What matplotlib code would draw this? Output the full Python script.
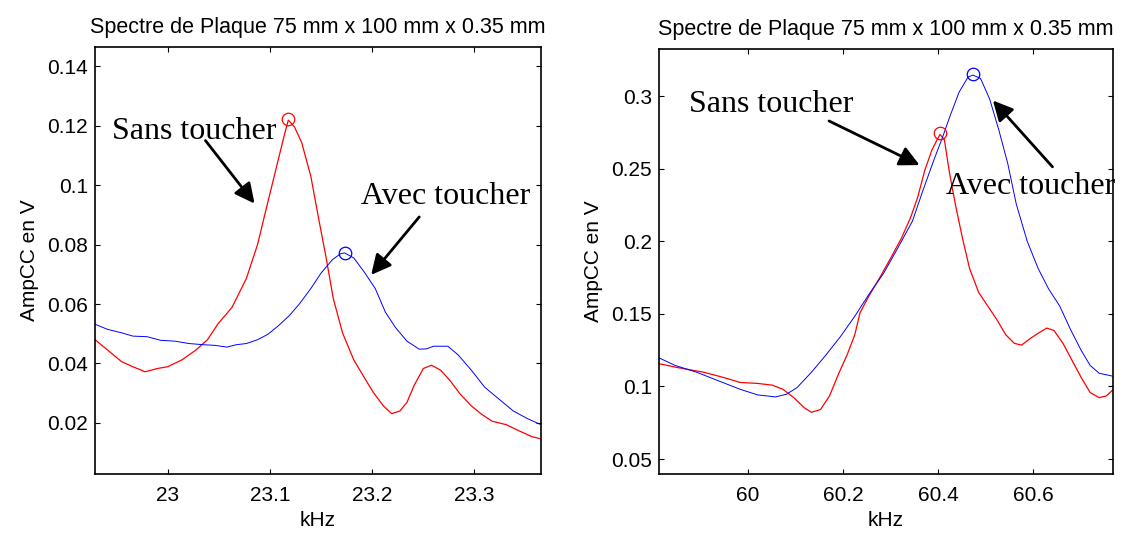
import numpy as np
import matplotlib
matplotlib.use('Agg')
import matplotlib.pyplot as plt

plt.rcParams['font.family'] = ['Liberation Sans', 'DejaVu Sans']

# Mode 1 (autour de 23 kHz)
f1_sans = [22.929, 22.941, 22.955, 22.966, 22.978, 22.990, 23.000, 23.014, 23.028, 23.039,
           23.049, 23.063, 23.077, 23.088, 23.096, 23.105, 23.114, 23.118, 23.124, 23.131,
           23.140, 23.148, 23.155, 23.162, 23.171, 23.182, 23.192, 23.201, 23.211, 23.219,
           23.227, 23.234, 23.241, 23.250, 23.258, 23.267, 23.276, 23.286, 23.297, 23.307,
           23.317, 23.331, 23.345, 23.356, 23.365]
a1_sans = [0.0480, 0.0446, 0.0406, 0.0389, 0.0372, 0.0383, 0.0389, 0.0412, 0.0446, 0.0480,
           0.0532, 0.0589, 0.0686, 0.0801, 0.0915, 0.1041, 0.1167, 0.1219, 0.1196, 0.1144,
           0.1030, 0.0881, 0.0755, 0.0618, 0.0503, 0.0412, 0.0354, 0.0303, 0.0257, 0.0231,
           0.0240, 0.0269, 0.0326, 0.0383, 0.0394, 0.0377, 0.0343, 0.0297, 0.0257, 0.0229,
           0.0206, 0.0194, 0.0171, 0.0154, 0.0146]
f1_avec = [22.929, 22.941, 22.955, 22.966, 22.980, 22.993, 23.007, 23.021, 23.035, 23.046,
           23.058, 23.067, 23.077, 23.088, 23.098, 23.108, 23.119, 23.129, 23.140, 23.150,
           23.161, 23.169, 23.173, 23.182, 23.192, 23.203, 23.213, 23.223, 23.234, 23.246,
           23.253, 23.260, 23.274, 23.284, 23.297, 23.310, 23.324, 23.338, 23.352, 23.365]
a1_avec = [0.0532, 0.0515, 0.0503, 0.0492, 0.0490, 0.0478, 0.0475, 0.0467, 0.0463, 0.0461,
           0.0455, 0.0463, 0.0467, 0.0480, 0.0498, 0.0526, 0.0561, 0.0601, 0.0652, 0.0704,
           0.0749, 0.0769, 0.0772, 0.0755, 0.0709, 0.0652, 0.0572, 0.0520, 0.0475, 0.0448,
           0.0449, 0.0458, 0.0458, 0.0429, 0.0377, 0.0320, 0.0280, 0.0240, 0.0214, 0.0194]
pic1_sans = (23.118, 0.1222)
pic1_avec = (23.173, 0.0772)

# Mode 2 (autour de 60 kHz)
f2_sans = [59.814, 59.855, 59.908, 59.953, 59.984, 60.021, 60.052, 60.074, 60.097, 60.119,
           60.134, 60.153, 60.172, 60.191, 60.210, 60.225, 60.236, 60.255, 60.278, 60.300,
           60.323, 60.342, 60.357, 60.372, 60.387, 60.398, 60.404, 60.413, 60.424, 60.436,
           60.451, 60.466, 60.485, 60.504, 60.523, 60.542, 60.560, 60.575, 60.594, 60.610,
           60.628, 60.643, 60.662, 60.681, 60.700, 60.719, 60.738, 60.753, 60.768]
a2_sans = [0.1157, 0.1129, 0.1098, 0.1059, 0.1028, 0.1021, 0.1009, 0.0981, 0.0923, 0.0853,
           0.0822, 0.0841, 0.0935, 0.1087, 0.1227, 0.1356, 0.1508, 0.1625, 0.1753, 0.1882,
           0.2022, 0.2163, 0.2303, 0.2490, 0.2630, 0.2701, 0.2736, 0.2701, 0.2467, 0.2256,
           0.2022, 0.1812, 0.1648, 0.1555, 0.1461, 0.1356, 0.1297, 0.1285, 0.1332, 0.1367,
           0.1402, 0.1386, 0.1297, 0.1180, 0.1063, 0.0958, 0.0923, 0.0935, 0.0981]
f2_avec = [59.814, 59.848, 59.893, 59.938, 59.984, 60.021, 60.059, 60.082, 60.104, 60.134,
           60.164, 60.195, 60.225, 60.255, 60.285, 60.315, 60.346, 60.368, 60.391, 60.410,
           60.425, 60.444, 60.463, 60.473, 60.489, 60.508, 60.527, 60.546, 60.564, 60.587,
           60.610, 60.632, 60.655, 60.678, 60.700, 60.719, 60.738, 60.768]
a2_avec = [0.1197, 0.1145, 0.1098, 0.1040, 0.0981, 0.0942, 0.0928, 0.0947, 0.0993, 0.1098,
           0.1215, 0.1344, 0.1484, 0.1636, 0.1777, 0.1952, 0.2139, 0.2350, 0.2560, 0.2724,
           0.2864, 0.3028, 0.3133, 0.3145, 0.3122, 0.2981, 0.2771, 0.2537, 0.2256, 0.2000,
           0.1812, 0.1671, 0.1555, 0.1391, 0.1250, 0.1145, 0.1091, 0.1070]
pic2_sans = (60.404, 0.2745)
pic2_avec = (60.473, 0.3150)

titre = 'Spectre de Plaque 75 mm x 100 mm x 0.35 mm'

fig = plt.figure(figsize=(11.23, 5.33), dpi=100)
ax1 = fig.add_axes([0.0846, 0.1107, 0.3971, 0.8012])
ax2 = fig.add_axes([0.5868, 0.1107, 0.4043, 0.7974])

arrow = dict(arrowstyle='-|>', color='k', lw=2, mutation_scale=30, shrinkA=0, shrinkB=0)
txt = dict(family='Liberation Serif', fontsize=23, va='center')


def style_axes(ax):
    ax.tick_params(direction='in', top=True, right=True, length=3.5, labelsize=15)
    ax.tick_params(axis='x', pad=9)
    ax.tick_params(axis='y', pad=5)
    for s in ax.spines.values():
        s.set_linewidth(1.2)
    ax.set_title(titre, fontsize=15.5, pad=10)
    ax.set_xlabel('kHz', fontsize=15, labelpad=4)
    ax.set_ylabel('AmpCC en V', fontsize=15, labelpad=6)


# graphe de gauche
ax1.plot(f1_sans, a1_sans, color='r', lw=0.9)
ax1.plot(f1_avec, a1_avec, color='b', lw=0.7)
ax1.plot(*pic1_sans, 'o', mfc='none', mec='r', ms=9, mew=0.9)
ax1.plot(*pic1_avec, 'o', mfc='none', mec='b', ms=9, mew=0.9)
ax1.set_xlim(22.929, 23.365)
ax1.set_ylim(0.0028, 0.1465)
ax1.set_xticks([23, 23.1, 23.2, 23.3])
ax1.set_xticklabels(['23', '23.1', '23.2', '23.3'])
ax1.set_yticks([0.02, 0.04, 0.06, 0.08, 0.1, 0.12, 0.14])
ax1.set_yticklabels(['0.02', '0.04', '0.06', '0.08', '0.1', '0.12', '0.14'])
ax1.text(22.946, 0.1180, 'Sans toucher', **txt)
ax1.annotate('', xy=(23.085, 0.0938), xytext=(23.037, 0.1150), arrowprops=arrow)
ax1.text(23.189, 0.0963, 'Avec toucher', **txt)
ax1.annotate('', xy=(23.199, 0.0698), xytext=(23.246, 0.0893), arrowprops=arrow)
style_axes(ax1)

# graphe de droite
ax2.plot(f2_sans, a2_sans, color='r', lw=0.9)
ax2.plot(f2_avec, a2_avec, color='b', lw=0.7)
ax2.plot(*pic2_sans, 'o', mfc='none', mec='r', ms=9, mew=0.9)
ax2.plot(*pic2_avec, 'o', mfc='none', mec='b', ms=9, mew=0.9)
ax2.set_xlim(59.814, 60.767)
ax2.set_ylim(0.0397, 0.3325)
ax2.set_xticks([60, 60.2, 60.4, 60.6])
ax2.set_xticklabels(['60', '60.2', '60.4', '60.6'])
ax2.set_yticks([0.05, 0.1, 0.15, 0.2, 0.25, 0.3])
ax2.set_yticklabels(['0.05', '0.1', '0.15', '0.2', '0.25', '0.3'])
ax2.text(59.878, 0.2944, 'Sans toucher', **txt)
ax2.annotate('', xy=(60.361, 0.2525), xytext=(60.171, 0.2829), arrowprops=arrow)
ax2.text(60.417, 0.2375, 'Avec toucher', clip_on=False, **txt)
ax2.annotate('', xy=(60.515, 0.2970), xytext=(60.640, 0.2513), arrowprops=arrow)
style_axes(ax2)

fig.savefig('out.png', dpi=100, facecolor='white')
